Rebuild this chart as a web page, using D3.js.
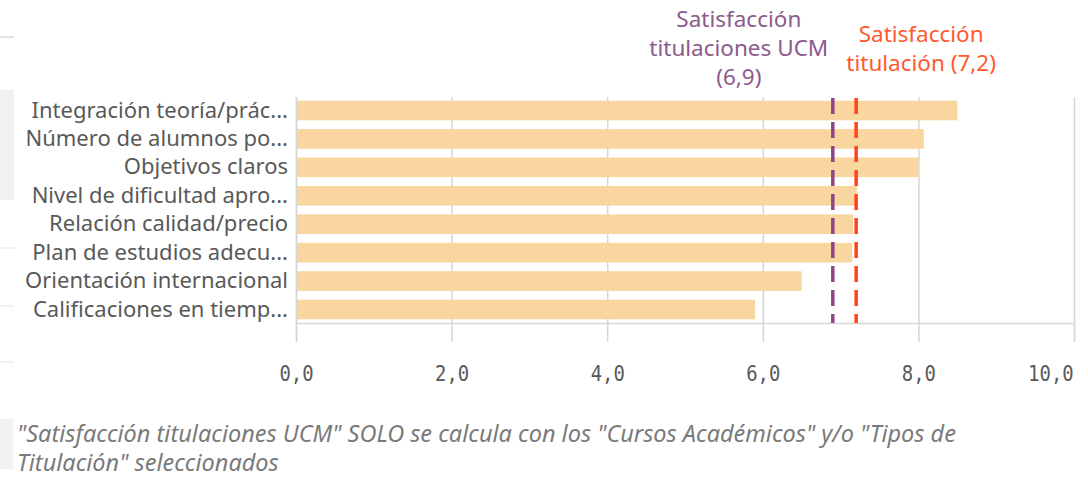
<!DOCTYPE html>
<html>
<head>
<meta charset="utf-8">
<script src="https://cdn.jsdelivr.net/npm/d3@7"></script>
<style>
  html, body { margin: 0; padding: 0; background: #fff; }
  svg { display: block; }
</style>
</head>
<body>
<svg id="chart" width="1088" height="478"></svg>
<script>
const categories = [
  "Integración teoría/prác...",
  "Número de alumnos po...",
  "Objetivos claros",
  "Nivel de dificultad apro...",
  "Relación calidad/precio",
  "Plan de estudios adecu...",
  "Orientación internacional",
  "Calificaciones en tiemp..."
];
const values = [8.5, 8.07, 8.0, 7.21, 7.16, 7.15, 6.5, 5.9];
const xTicks = [0, 2, 4, 6, 8, 10];
const refLines = [
  { value: 6.9, label: ["Satisfacción", "titulaciones UCM", "(6,9)"], color: "#8e4585", text: "#8d5a8c" },
  { value: 7.2, label: ["Satisfacción", "titulación (7,2)"], color: "#ff4519", text: "#ff5a2e" }
];
const footnote = [
  "\"Satisfacción titulaciones UCM\" SOLO se calcula con los \"Cursos Académicos\" y/o \"Tipos de",
  "Titulación\" seleccionados"
];

const svg = d3.select("#chart");
const margin = { top: 97, right: 14, bottom: 155, left: 296 };
const width = 1088, height = 478;

const x = d3.scaleLinear().domain([0, 10]).range([margin.left, 1074]);
const y = d3.scaleBand().domain(categories)
  .range([margin.top, height - margin.bottom])
  .paddingInner(0.31).paddingOuter(0.13);

const esLocale = d3.formatLocale({ decimal: ",", thousands: ".", grouping: [3], currency: ["", " €"] });
const fmt = esLocale.format(".1f");

// artefactos del panel a la izquierda
svg.append("line").attr("x1", 0).attr("x2", 14).attr("y1", 37).attr("y2", 37)
  .attr("stroke", "#d9d9d9").attr("stroke-width", 1.5);
svg.append("rect").attr("x", 0).attr("y", 90).attr("width", 14).attr("height", 110).attr("fill", "#f2f2f2");
[248, 306, 362].forEach(yy => {
  svg.append("line").attr("x1", 0).attr("x2", 14).attr("y1", yy).attr("y2", yy)
    .attr("stroke", "#ececec").attr("stroke-width", 1.5);
});
svg.append("rect").attr("x", 0).attr("y", 419).attr("width", 13).attr("height", 50).attr("fill", "#f2f2f2");

// rejilla vertical
svg.append("g")
  .attr("transform", `translate(0, ${height - margin.bottom})`)
  .call(d3.axisBottom(x).tickValues(xTicks).tickSize(-(height - margin.bottom - margin.top)).tickFormat(""))
  .call(g => g.select(".domain").remove())
  .call(g => g.selectAll("line").attr("stroke", "#d6d6d6").attr("stroke-width", 1.5));

// barras
svg.selectAll(".bar")
  .data(values)
  .enter().append("rect")
  .attr("class", "bar")
  .attr("x", x(0))
  .attr("y", (d, i) => y(categories[i]))
  .attr("width", d => x(d) - x(0))
  .attr("height", y.bandwidth())
  .attr("fill", "#f9d6a0");

// eje X
svg.append("g")
  .attr("transform", `translate(0, ${height - margin.bottom})`)
  .call(d3.axisBottom(x).tickValues(xTicks).tickSize(19).tickPadding(23).tickFormat(fmt))
  .call(g => g.select(".domain").attr("stroke", "#d6d6d6").attr("stroke-width", 1.5))
  .call(g => g.selectAll("line").attr("stroke", "#d6d6d6").attr("stroke-width", 1.5))
  .call(g => g.selectAll("text")
    .attr("fill", "#595959")
    .attr("transform", "scale(0.86,1)")
    .style("font-family", "'DejaVu Sans Mono', monospace")
    .style("font-size", "22px"))
  .call(g => g.selectAll("text").filter(d => d === 10)
    .attr("text-anchor", "end").attr("x", -1));

// eje Y (etiquetas)
svg.append("g")
  .attr("transform", `translate(${margin.left}, 0)`)
  .call(d3.axisLeft(y).tickSize(0).tickPadding(8))
  .call(g => g.select(".domain").attr("stroke", "#d6d6d6").attr("stroke-width", 1.5))
  .call(g => g.selectAll("text")
    .attr("fill", "#595959")
    .style("font-family", "'Noto Sans', sans-serif")
    .style("font-size", "22px"));

// líneas de referencia
refLines.forEach((r, k) => {
  svg.append("line")
    .attr("x1", x(r.value)).attr("x2", x(r.value))
    .attr("y1", margin.top + 1).attr("y2", height - margin.bottom)
    .attr("stroke", r.color).attr("stroke-width", 3.5)
    .attr("stroke-dasharray", "16,8");
  const lineH = 29;
  const lastY = k === 0 ? 85 : 71;
  const cx = k === 0 ? x(r.value) - 94 : x(r.value) + 65;
  const baseY = lastY - (r.label.length - 1) * lineH;
  const t = svg.append("text")
    .attr("text-anchor", "middle")
    .attr("fill", r.text)
    .style("font-family", "'Noto Sans', sans-serif")
    .style("font-size", "22.5px");
  r.label.forEach((l, i) => {
    t.append("tspan").attr("x", cx).attr("y", baseY + i * lineH).text(l);
  });
});

// nota al pie
const note = svg.append("text")
  .attr("fill", "#7a7a7a")
  .style("font-family", "'Noto Sans', sans-serif")
  .style("font-size", "23.5px")
  .style("font-style", "italic");
footnote.forEach((l, i) => {
  note.append("tspan").attr("x", 17).attr("y", 442 + i * 29).text(l);
});
</script>
</body>
</html>
